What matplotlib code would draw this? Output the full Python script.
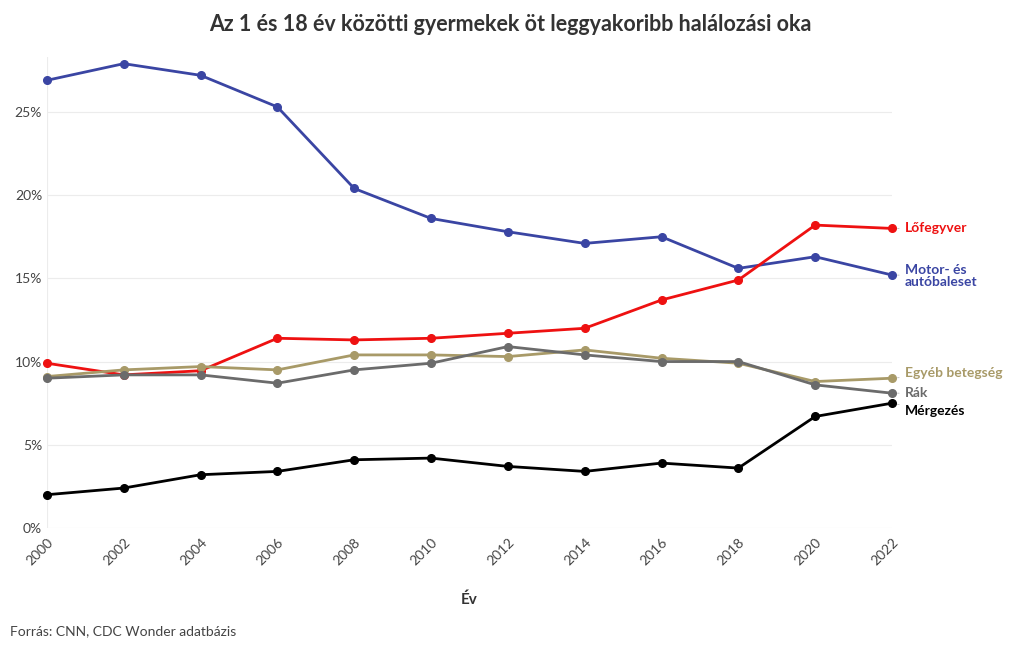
import matplotlib.pyplot as plt
from matplotlib.ticker import FuncFormatter

plt.rcParams['font.family'] = ['Lato', 'DejaVu Sans']

years = [2000, 2002, 2004, 2006, 2008, 2010, 2012, 2014, 2016, 2018, 2020, 2022]
motor = [26.9, 27.9, 27.2, 25.3, 20.4, 18.6, 17.8, 17.1, 17.5, 15.6, 16.3, 15.2]
firearm = [9.9, 9.2, 9.45, 11.4, 11.3, 11.4, 11.7, 12.0, 13.7, 14.9, 18.2, 18.0]
other = [9.1, 9.5, 9.7, 9.5, 10.4, 10.4, 10.3, 10.7, 10.2, 9.9, 8.8, 9.0]
cancer = [9.0, 9.2, 9.2, 8.7, 9.5, 9.9, 10.9, 10.4, 10.0, 10.0, 8.6, 8.1]
poison = [2.0, 2.4, 3.2, 3.4, 4.1, 4.2, 3.7, 3.4, 3.9, 3.6, 6.7, 7.5]

series = [
    ('Motor- és\nautóbaleset', motor, '#3a45a3', 15.15),
    ('Lőfegyver', firearm, '#ee1111', 18.0),
    ('Egyéb betegség', other, '#a89a68', 9.3),
    ('Rák', cancer, '#6b6b6b', 8.1),
    ('Mérgezés', poison, '#000000', 7.0),
]

fig = plt.figure(figsize=(10.2, 6.5), dpi=100)
ax = fig.add_axes([0.046, 0.1877, 0.8285, 0.7246])

for name, vals, col, ly in series:
    ax.plot(years, vals, color=col, lw=2.0, marker='o', ms=5.5, zorder=3, clip_on=False)
    ax.annotate(name, xy=(years[-1], vals[-1]), xytext=(2022.33, ly),
                color=col, fontsize=10, fontweight='bold', va='center', ha='left',
                linespacing=0.95, annotation_clip=False,
                arrowprops=dict(arrowstyle='-', color='#bbbbbb', lw=0.6,
                                shrinkA=2, shrinkB=4))

ax.set_xlim(2000, 2022)
ax.set_ylim(0, 28.3)
ax.set_xticks(years)
ax.set_yticks([0, 5, 10, 15, 20, 25])
ax.yaxis.set_major_formatter(FuncFormatter(lambda v, p: f'{v:.0f}%'))
ax.grid(axis='y', color='#ececec', lw=0.8)
ax.axvline(2000, color='#ececec', lw=0.8, zorder=0)
for s in ax.spines.values():
    s.set_visible(False)
ax.tick_params(length=0, colors='#444444', labelsize=10)
ax.tick_params(axis='x', pad=6)
plt.setp(ax.get_xticklabels(), rotation=45, ha='right', rotation_mode='anchor')
ax.set_xlabel('Év', fontsize=11, fontweight='bold', color='#333333', labelpad=18)

fig.text(0.5, 0.962, 'Az 1 és 18 év közötti gyermekek öt leggyakoribb halálozási oka',
         ha='center', va='center', fontsize=15.5, fontweight='bold', color='#333333')
fig.text(0.01, 0.029, 'Forrás: CNN, CDC Wonder adatbázis', ha='left', va='center',
         fontsize=10, color='#444444')

fig.savefig('out.png', dpi=100)
